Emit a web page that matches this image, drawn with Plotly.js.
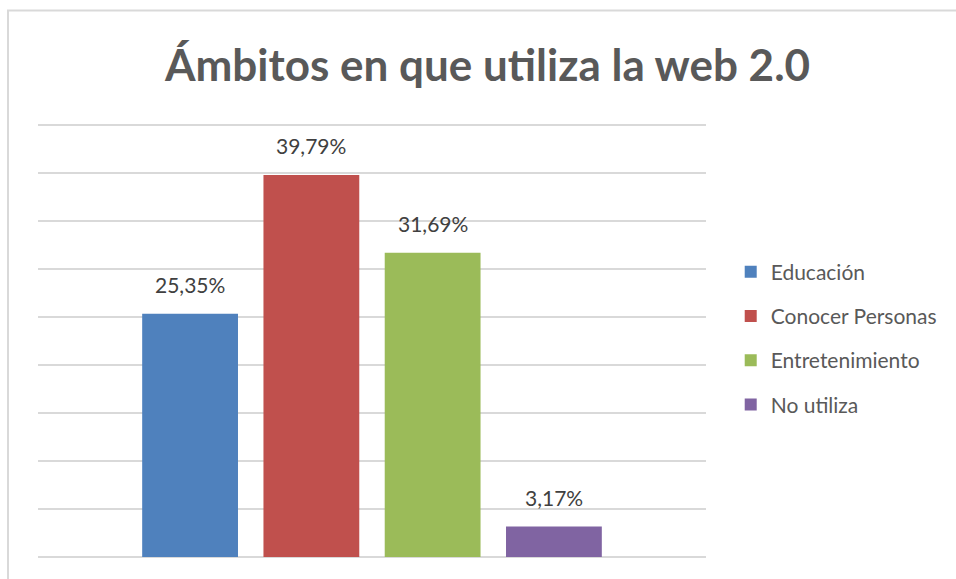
<!DOCTYPE html>
<html>
<head>
<meta charset="utf-8">
<script src="https://cdn.plot.ly/plotly-3.0.1.min.js"></script>
<style>html,body{margin:0;padding:0;background:#fff;}#chart{width:956px;height:579px;}</style>
</head>
<body>
<div id="chart"></div>
<script>
const seriesNames = ['Educación', 'Conocer Personas', 'Entretenimiento', 'No utiliza'];
const seriesValues = [25.35, 39.79, 31.69, 3.17];
const seriesColors = ['#4F81BD', '#C0504D', '#9BBB59', '#8064A2'];

const FONT = 'Lato, "Open Sans", sans-serif';

const traces = seriesNames.map((name, i) => ({
  type: 'bar',
  name: name,
  x: [name],
  y: [seriesValues[i]],
  width: 0.79,
  marker: {color: seriesColors[i]},
  legendgroup: 'g' + i,
  hoverinfo: 'name+y'
}));

const annotations = seriesNames.map((name, i) => ({
  xref: 'x', yref: 'y',
  x: name, y: seriesValues[i],
  text: seriesValues[i].toFixed(2).replace('.', ',') + '%',
  showarrow: false,
  xanchor: 'center', yanchor: 'bottom',
  yshift: 15,
  font: {family: FONT, size: 21, color: '#404040'}
}));

const layout = {
  width: 956,
  height: 579,
  margin: {l: 38, r: 250, t: 122, b: 22},
  paper_bgcolor: '#ffffff',
  plot_bgcolor: '#ffffff',
  barmode: 'overlay',
  title: {
    text: '<b>Ámbitos en que utiliza la web 2.0</b>',
    font: {family: FONT, size: 44, color: '#595959'},
    x: 0.51, xref: 'container', xanchor: 'center',
    y: 0.886, yref: 'container', yanchor: 'middle'
  },
  xaxis: {
    type: 'category', categoryorder: 'array', categoryarray: seriesNames,
    range: [-1.254, 4.254],
    showticklabels: false, showgrid: false, zeroline: false, showline: false, ticks: ''
  },
  yaxis: {
    range: [0, 45.3125], dtick: 5, showticklabels: false, ticks: '',
    showgrid: true, gridcolor: '#d9d9d9', gridwidth: 1.5,
    zeroline: true, zerolinecolor: '#d9d9d9', zerolinewidth: 1.5, showline: false
  },
  legend: {
    x: 1.037, xanchor: 'left', y: 0.5023, yanchor: 'middle',
    font: {family: FONT, size: 21, color: '#595959'},
    traceorder: 'grouped', tracegroupgap: 14,
    itemwidth: 30, bgcolor: 'rgba(0,0,0,0)'
  },
  annotations: annotations,
  shapes: [{
    type: 'rect', xref: 'paper', yref: 'paper',
    x0: -0.0449, x1: 1.3802, y0: -0.0575, y1: 1.2563,
    line: {color: '#d9d9d9', width: 2}, fillcolor: 'rgba(0,0,0,0)', layer: 'below'
  }]
};

Plotly.newPlot('chart', traces, layout, {displayModeBar: false, staticPlot: true});
</script>
</body>
</html>
